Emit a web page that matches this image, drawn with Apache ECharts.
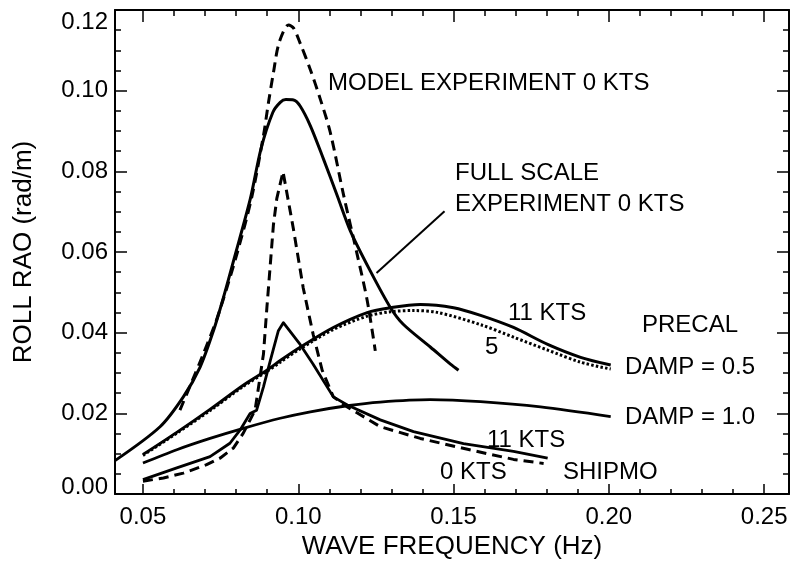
<!DOCTYPE html>
<html>
<head>
<meta charset="utf-8">
<script src="https://cdn.jsdelivr.net/npm/echarts@6/dist/echarts.min.js"></script>
<style>
  html, body { margin: 0; padding: 0; background: #fff; }
  #chart { width: 793px; height: 565px; }
</style>
</head>
<body>
<div id="chart"></div>
<script>
// Roll RAO versus wave frequency: experiments, SHIPMO and PRECAL predictions

// Full scale experiment, 0 kts (solid)
var fullScaleFreq = [0.041, 0.0555, 0.063, 0.0684, 0.0727, 0.0759, 0.0794, 0.0846, 0.088, 0.0918, 0.0942, 0.096, 0.0985, 0.1006, 0.1039, 0.1081, 0.1125, 0.1168, 0.1232, 0.1297, 0.1338, 0.1426, 0.149, 0.1516];
var fullScaleRao  = [0.0083, 0.0167, 0.0241, 0.0315, 0.0405, 0.0487, 0.0585, 0.0733, 0.0856, 0.0946, 0.0971, 0.0978, 0.0977, 0.0962, 0.0913, 0.0831, 0.0741, 0.0652, 0.0553, 0.0462, 0.0421, 0.0364, 0.0322, 0.0307];

// Model experiment, 0 kts (dashed)
var modelFreq = [0.0619, 0.0655, 0.0694, 0.0736, 0.077, 0.0805, 0.085, 0.0888, 0.0904, 0.092, 0.0938, 0.0969, 0.0985, 0.1006, 0.1039, 0.1071, 0.1103, 0.1146, 0.119, 0.1222, 0.1248];
var modelRao  = [0.0208, 0.0274, 0.0347, 0.043, 0.0511, 0.0602, 0.0735, 0.0889, 0.097, 0.1044, 0.1118, 0.1163, 0.1155, 0.1118, 0.1052, 0.0979, 0.0897, 0.0741, 0.0593, 0.048, 0.0355];

// SHIPMO, 0 kts (dashed)
var shipmo0Freq = [0.05, 0.0566, 0.063, 0.0705, 0.0748, 0.0791, 0.0823, 0.0861, 0.0888, 0.0899, 0.091, 0.092, 0.0931, 0.0951, 0.0984, 0.1016, 0.1048, 0.1077, 0.1113, 0.1158, 0.1264, 0.1393, 0.1545, 0.1693, 0.179];
var shipmo0Rao  = [0.0032, 0.004, 0.0052, 0.0073, 0.0089, 0.0114, 0.0151, 0.0208, 0.0347, 0.0462, 0.0569, 0.0667, 0.0733, 0.0799, 0.0659, 0.0511, 0.0396, 0.0307, 0.0241, 0.0216, 0.0167, 0.0138, 0.0111, 0.0086, 0.0076];

// SHIPMO, 11 kts (solid)
var shipmo11Freq = [0.05, 0.0609, 0.0716, 0.078, 0.0813, 0.0845, 0.0866, 0.0888, 0.091, 0.0936, 0.0952, 0.1006, 0.1048, 0.1113, 0.1158, 0.1264, 0.1371, 0.1532, 0.1693, 0.1803];
var shipmo11Rao  = [0.0036, 0.0065, 0.0093, 0.0126, 0.0159, 0.02, 0.0208, 0.0266, 0.0331, 0.0405, 0.0425, 0.0371, 0.0322, 0.0241, 0.0221, 0.0184, 0.0155, 0.0125, 0.0106, 0.0089];

// PRECAL, damping 0.5, 11 kts (solid)
var precal11Freq = [0.05, 0.0609, 0.0716, 0.0823, 0.0899, 0.0942, 0.1006, 0.1113, 0.1222, 0.1297, 0.1393, 0.15, 0.1587, 0.1693, 0.1803, 0.1909, 0.2006];
var precal11Rao  = [0.0098, 0.0153, 0.021, 0.027, 0.0307, 0.0331, 0.0364, 0.0413, 0.045, 0.0462, 0.047, 0.0462, 0.0443, 0.0413, 0.0371, 0.0339, 0.032];

// PRECAL, damping 0.5, 5 kts (dotted)
var precal5Freq = [0.05, 0.0609, 0.0716, 0.0823, 0.0899, 0.0942, 0.1006, 0.1113, 0.1222, 0.1297, 0.137, 0.145, 0.1587, 0.1693, 0.1803, 0.1909, 0.2006];
var precal5Rao  = [0.0096, 0.0151, 0.0207, 0.0267, 0.0304, 0.0327, 0.036, 0.0408, 0.0441, 0.0452, 0.0455, 0.045, 0.042, 0.0389, 0.0357, 0.0327, 0.031];

// PRECAL, damping 1.0 (solid)
var precalD1Freq = [0.05, 0.0609, 0.0716, 0.0823, 0.0942, 0.1039, 0.1158, 0.1264, 0.1425, 0.1587, 0.178, 0.2006];
var precalD1Rao  = [0.0077, 0.011, 0.0138, 0.0163, 0.0188, 0.0204, 0.0219, 0.0228, 0.0234, 0.0229, 0.0216, 0.0192];

// Leader from the full scale label to its curve
var leaderFreq = [0.1252, 0.1471];
var leaderRao  = [0.0548, 0.0701];

// Axis ticks
var xMajorTicks = [0.05, 0.10, 0.15, 0.20, 0.25];
var xMinorTicks = [0.06, 0.07, 0.08, 0.09, 0.11, 0.12, 0.13, 0.14, 0.16, 0.17, 0.18, 0.19, 0.21, 0.22, 0.23, 0.24];

function pairs(xs, ys) {
  return xs.map(function (x, i) { return [x, ys[i]]; });
}

var FONT = 'Liberation Sans, Arial, Helvetica, sans-serif';
var INK = '#000';

function xAxisDef(position, ticks, len, withLine, withLabels) {
  return {
    type: 'value', position: position, min: 0.041, max: 0.258,
    axisLine: { show: withLine, onZero: false, lineStyle: { color: INK, width: 2 } },
    axisTick: { show: true, inside: true, length: len, customValues: ticks, lineStyle: { color: INK, width: 1.5 } },
    axisLabel: withLabels ? {
      show: true, customValues: ticks, margin: 11, color: INK, fontSize: 24, fontFamily: FONT,
      formatter: function (v) { return v.toFixed(2); }
    } : { show: false },
    splitLine: { show: false },
    name: withLabels ? 'WAVE FREQUENCY (Hz)' : '',
    nameLocation: 'middle', nameGap: 33,
    nameTextStyle: { color: INK, fontSize: 26, fontFamily: FONT }
  };
}

function yAxisDef(position, withLabels) {
  return {
    type: 'value', position: position, min: 0, max: 0.12, interval: 0.02,
    axisLine: { show: true, onZero: false, lineStyle: { color: INK, width: 2 } },
    axisTick: { show: true, inside: true, length: 12, lineStyle: { color: INK, width: 1.5 } },
    minorTick: { show: true, splitNumber: 4, length: 6, lineStyle: { color: INK, width: 1.5 } },
    axisLabel: withLabels ? {
      show: true, margin: 7, color: INK, fontSize: 24, fontFamily: FONT,
      verticalAlignMinLabel: 'bottom', verticalAlignMaxLabel: 'top',
      formatter: function (v) { return v === 0 ? '{low|0.00}' : v.toFixed(2); },
      rich: { low: { fontSize: 24, fontFamily: FONT, color: INK, lineHeight: 14 } }
    } : { show: false },
    splitLine: { show: false },
    minorSplitLine: { show: false },
    name: withLabels ? 'ROLL RAO (rad/m)' : '',
    nameLocation: 'middle', nameGap: 78, nameRotate: 90,
    nameTextStyle: { color: INK, fontSize: 26, fontFamily: FONT }
  };
}

function curve(name, data, width, dash, smooth) {
  return {
    name: name, type: 'line', data: data, xAxisIndex: 0, yAxisIndex: 0,
    showSymbol: false, smooth: smooth, silent: true,
    lineStyle: { color: INK, width: width, type: dash || 'solid', cap: 'butt', join: 'round' }
  };
}

function label(text, x, y) {
  return {
    type: 'text', x: x, y: y, silent: true,
    style: { text: text, fill: INK, font: '24px ' + FONT, textVerticalAlign: 'middle' }
  };
}

var chart = echarts.init(document.getElementById('chart'), null, { renderer: 'canvas' });
chart.setOption({
  animation: false,
  backgroundColor: '#fff',
  grid: { left: 115, right: 4, top: 10, bottom: 67, containLabel: false },
  xAxis: [
    xAxisDef('bottom', xMajorTicks, 10, true, true),
    xAxisDef('bottom', xMinorTicks, 5, false, false),
    xAxisDef('top', xMajorTicks, 12, true, false),
    xAxisDef('top', xMinorTicks, 6, false, false)
  ],
  yAxis: [
    yAxisDef('left', true),
    yAxisDef('right', false)
  ],
  series: [
    curve('Full scale experiment 0 kts', pairs(fullScaleFreq, fullScaleRao), 3, null, 0.3),
    curve('Model experiment 0 kts', pairs(modelFreq, modelRao), 3, [10, 6], 0.3),
    curve('SHIPMO 0 kts', pairs(shipmo0Freq, shipmo0Rao), 3, [10, 6], false),
    curve('SHIPMO 11 kts', pairs(shipmo11Freq, shipmo11Rao), 2.8, null, false),
    curve('PRECAL damp 0.5, 11 kts', pairs(precal11Freq, precal11Rao), 3, null, 0.3),
    curve('PRECAL damp 0.5, 5 kts', pairs(precal5Freq, precal5Rao), 3, [2.5, 2.2], 0.3),
    curve('PRECAL damp 1.0', pairs(precalD1Freq, precalD1Rao), 2.8, null, 0.3),
    curve('leader', pairs(leaderFreq, leaderRao), 2, null, false)
  ],
  graphic: [
    label('MODEL EXPERIMENT 0 KTS', 328, 83),
    label('FULL SCALE', 455, 173),
    label('EXPERIMENT 0 KTS', 455, 204),
    label('11 KTS', 508, 313),
    label('5', 485, 347),
    label('PRECAL', 642, 325),
    label('DAMP = 0.5', 625, 367),
    label('DAMP = 1.0', 625, 417),
    label('11 KTS', 487, 440),
    label('0 KTS', 440, 472),
    label('SHIPMO', 563, 472)
  ]
});
</script>
</body>
</html>
